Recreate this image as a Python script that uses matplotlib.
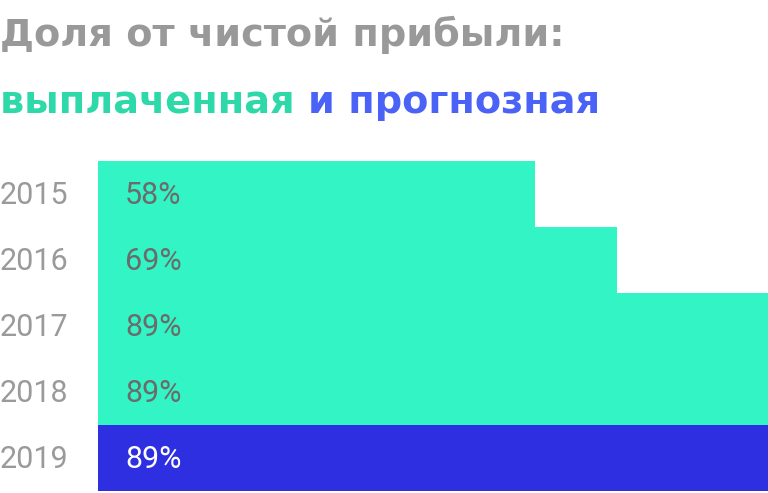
import matplotlib
matplotlib.use('Agg')
import matplotlib.pyplot as plt

years = ['2015', '2016', '2017', '2018', '2019']
payout = [58, 69, 89, 89, 89]
forecast = [False, False, False, False, True]

green = '#33F4C5'
blue = '#2F2FE2'

plt.rcParams['font.family'] = ['Roboto', 'DejaVu Sans']

fig = plt.figure(figsize=(7.68, 4.93), dpi=100)
ax = fig.add_axes([98 / 768, 2 / 493, 1 - 98 / 768, (491 - 161) / 493])

colors = [blue if f else green for f in forecast]
ax.barh(range(len(years)), payout, height=1.0, color=colors, edgecolor='none')
ax.set_xlim(0, 89)
ax.set_ylim(len(years) - 0.5, -0.5)

# px -> data units along x, baseline a bit below bar centre
px = 89 / 670
base = 10.5 / 66
for i, (y, v, f) in enumerate(zip(years, payout, forecast)):
    ax.text(27 * px, i + base, f'{v}%', va='baseline', ha='left', fontsize=22,
            color='white' if f else '#6B6B6B')
    ax.text(-30 * px, i + base, y, va='baseline', ha='right', fontsize=22,
            color='#9A9A9A')

ax.axis('off')

title_font = dict(fontsize=27.5, fontweight='bold', family='DejaVu Sans',
                  ha='left', va='baseline')
fig.text(0.0, 1 - 46 / 493, 'Доля от чистой прибыли:', color='#999999', **title_font)
t1 = fig.text(0.0, 1 - 113 / 493, 'выплаченная ', color='#2ED9A9', **title_font)
fig.canvas.draw()
bb = t1.get_window_extent()
fig.text(bb.x1 / fig.bbox.width, 1 - 113 / 493, 'и прогнозная', color='#4A62F6',
         **title_font)

fig.savefig('out.png', dpi=100)
